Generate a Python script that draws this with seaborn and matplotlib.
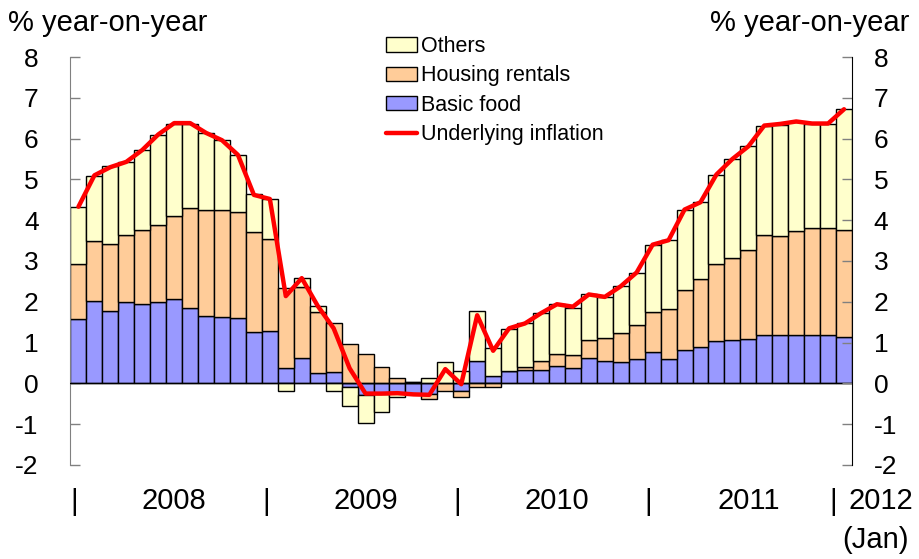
import numpy as np
import pandas as pd
import matplotlib
matplotlib.use('Agg')
import matplotlib.pyplot as plt
import matplotlib.transforms as mtransforms
from matplotlib.patches import Patch
from matplotlib.lines import Line2D
import seaborn as sns

# monthly contributions, Jan 2008 .. Jan 2012 (percentage points)
months = pd.date_range('2008-01-01', '2012-01-01', freq='MS').strftime('%Y-%m').tolist()

basic_food = [1.58, 2.02, 1.78, 1.99, 1.95, 1.99, 2.07, 1.84, 1.65, 1.63, 1.61, 1.27,
              1.28, 0.37, 0.61, 0.26, 0.28, -0.08, -0.29, -0.25, -0.23, -0.25, -0.25, 0.00,
              -0.18, 0.55, 0.18, 0.31, 0.34, 0.34, 0.43, 0.37, 0.61, 0.55, 0.52, 0.60,
              0.77, 0.59, 0.81, 0.90, 1.03, 1.06, 1.10, 1.18, 1.18, 1.18, 1.18, 1.18, 1.14]

housing_rentals = [1.34, 1.46, 1.63, 1.64, 1.81, 1.89, 2.03, 2.45, 2.59, 2.61, 2.58, 2.45,
                   2.27, 1.96, 1.76, 1.50, 1.21, 0.96, 0.72, 0.40, 0.12, 0.03, -0.14, -0.18,
                   -0.15, -0.10, -0.08, 0.00, 0.07, 0.21, 0.30, 0.32, 0.45, 0.56, 0.72, 0.83,
                   0.97, 1.24, 1.49, 1.65, 1.89, 2.02, 2.17, 2.45, 2.43, 2.55, 2.62, 2.64, 2.62]

others = [1.41, 1.61, 1.92, 1.80, 1.96, 2.22, 2.27, 2.08, 1.90, 1.72, 1.41, 0.91,
          0.96, -0.18, 0.21, 0.13, -0.18, -0.48, -0.67, -0.45, -0.11, 0.00, 0.12, 0.53,
          0.31, 1.22, 0.69, 1.03, 1.06, 1.17, 1.21, 1.17, 1.12, 1.01, 1.14, 1.27,
          1.65, 1.68, 1.96, 1.89, 2.20, 2.42, 2.54, 2.68, 2.72, 2.68, 2.57, 2.55, 2.96]

underlying = [4.33, 5.10, 5.30, 5.43, 5.72, 6.10, 6.38, 6.38, 6.14, 5.96, 5.60, 4.62,
              4.52, 2.14, 2.58, 1.90, 1.35, 0.37, -0.25, -0.25, -0.24, -0.27, -0.28, 0.35,
              -0.02, 1.67, 0.80, 1.35, 1.47, 1.72, 1.94, 1.88, 2.18, 2.12, 2.38, 2.72,
              3.40, 3.51, 4.26, 4.44, 5.12, 5.50, 5.81, 6.32, 6.36, 6.42, 6.37, 6.37, 6.72]

year_labels = ['2008', '2009', '2010', '2011']
y_ticks = list(range(-2, 9))

colors = {'Basic food': '#9999FF', 'Housing rentals': '#FFCC99', 'Others': '#FFFFCC'}

sns.set_style('white')
plt.rcParams['font.family'] = ['Liberation Sans', 'DejaVu Sans']
plt.rcParams['axes.unicode_minus'] = False
plt.rcParams['text.color'] = 'black'
plt.rcParams['ytick.labelcolor'] = 'black'

fig = plt.figure(figsize=(9.19, 5.59), dpi=100)
ax = fig.add_axes([0.0767, 0.1682, 0.8504, 0.7298])

df = pd.DataFrame({'month': months, 'Basic food': basic_food,
                   'Housing rentals': housing_rentals, 'Others': others})

# stack positives upwards and negatives downwards
pos_base = np.zeros(len(df))
neg_base = np.zeros(len(df))
for name in ['Basic food', 'Housing rentals', 'Others']:
    vals = df[name].to_numpy()
    bottom = np.where(vals >= 0, pos_base, neg_base)
    sns.barplot(data=df, x='month', y=name, ax=ax, color=colors[name], saturation=1,
                width=1.0, edgecolor='black', linewidth=1.0, errorbar=None, bottom=bottom)
    pos_base += np.clip(vals, 0, None)
    neg_base += np.clip(vals, None, 0)

ax.axhline(0, color='black', lw=1.0, zorder=3)
sns.lineplot(x=np.arange(len(df)), y=underlying, ax=ax, color='#FF0000', linewidth=3.2,
             legend=False, zorder=4)

ax.set_xlim(-0.5, len(df) - 0.5)
ax.set_ylim(-2, 8)
ax.set_yticks(y_ticks)
ax.set_xticks([])
ax.set_xlabel('')
ax.set_ylabel('')
for s in ['top', 'bottom', 'right']:
    ax.spines[s].set_visible(False)
ax.spines['left'].set_color('#808080')
ax.tick_params(axis='y', direction='in', length=7, width=1, color='#808080',
               labelsize=19, pad=23, left=True, labelcolor='black')

ax2 = ax.twinx()
ax2.set_ylim(-2, 8)
ax2.set_yticks(y_ticks)
for s in ['top', 'bottom', 'left']:
    ax2.spines[s].set_visible(False)
ax2.spines['right'].set_color('black')
ax2.tick_params(axis='y', direction='in', length=7, width=1, color='#808080',
                labelsize=19, pad=15.5, right=True, labelcolor='black')
ax2.grid(False)

# x-axis year markers
trans = mtransforms.blended_transform_factory(ax.transData, ax.transAxes)
for i in range(0, len(df) - 1, 12):
    ax.text(i - 0.25, -0.09, '|', transform=trans, ha='center', va='center', fontsize=21)
for k, yl in enumerate(year_labels):
    ax.text(6 + 12 * k, -0.088, yl, transform=trans, ha='center', va='center', fontsize=21)
ax.text(47.35, -0.09, '|', transform=trans, ha='center', va='center', fontsize=21)
ax.text(48.3, -0.088, '2012', transform=trans, ha='left', va='center', fontsize=21)
ax.text(50.0, -0.184, '(Jan)', transform=trans, ha='center', va='center', fontsize=21)

fig.text(8 / 919, 1 - 31 / 559, '% year-on-year', ha='left', va='baseline', fontsize=21)
fig.text(909 / 919, 1 - 31 / 559, '% year-on-year', ha='right', va='baseline', fontsize=21)

handles = [Patch(facecolor=colors['Others'], edgecolor='black', lw=1.0),
           Patch(facecolor=colors['Housing rentals'], edgecolor='black', lw=1.0),
           Patch(facecolor=colors['Basic food'], edgecolor='black', lw=1.0),
           Line2D([], [], color='#FF0000', lw=3.2)]
labels = ['Others', 'Housing rentals', 'Basic food', 'Underlying inflation']
fig.legend(handles, labels, loc='upper left', bbox_to_anchor=(386 / 919, 1 - 36 / 559),
           frameon=False, fontsize=15.5, borderpad=0, borderaxespad=0,
           handlelength=1.44, handleheight=0.65, handletextpad=0.2, labelspacing=0.39)

fig.savefig('out.png', dpi=100)
